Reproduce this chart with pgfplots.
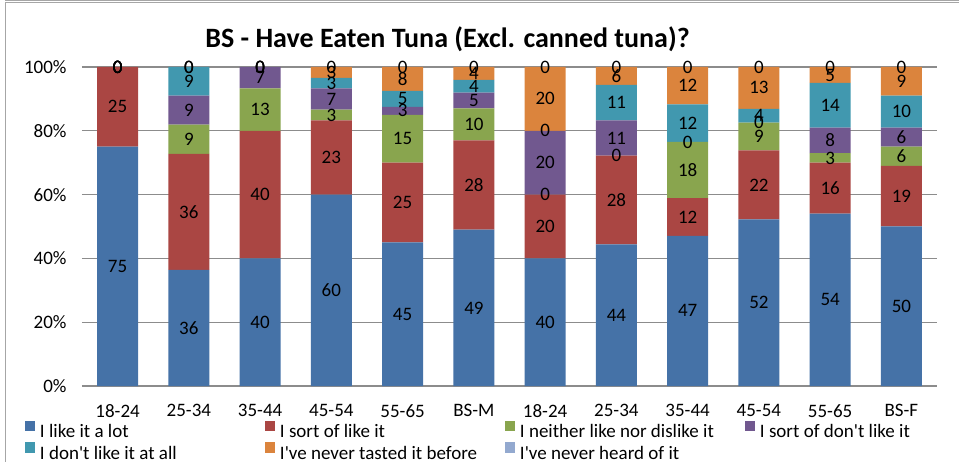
\documentclass[border=0pt]{standalone}
\usepackage{pgfplots}
\pgfplotsset{compat=1.18}
\usepackage{pgfplotstable}
\usepackage{fontspec}
\setmainfont{Carlito}
\definecolor{c1}{HTML}{4572A7}
\definecolor{c2}{HTML}{AA4643}
\definecolor{c3}{HTML}{89A54E}
\definecolor{c4}{HTML}{71588F}
\definecolor{c5}{HTML}{4198AF}
\definecolor{c6}{HTML}{DB843D}
\definecolor{c7}{HTML}{93A9CF}
\definecolor{gridgray}{HTML}{8C8C8C}
\definecolor{framegray}{HTML}{A6A6A6}

% a: like a lot, b: sort of like, c: neither, d: sort of don't like,
% e: don't like at all, f: never tasted, g: never heard
\pgfplotstableread{
x  a    b    c    d    e    f    g
0  75   25   0    0    0    0    0
1  36.4 36.4 9.1  9.1  9.0  0    0
2  40   40   13.3 6.7  0    0    0
3  60   23.3 3.3  6.7  3.3  3.4  0
4  45   25   15   2.5  5    7.5  0
5  49   28   10   5    4    4    0
6  40   20   0    20   0    20   0
7  44.4 27.8 0    11.1 11.1 5.6  0
8  47.1 11.8 17.6 0    11.8 11.7 0
9  52.2 21.7 8.7  0    4.3  13.1 0
10 54   16   3    8    14   5    0
11 50   19   6    6    10   9    0
}\data

\newcommand\lbl{\fontsize{19bp}{22bp}\selectfont}
\newcommand\q{\textquotesingle}

\begin{document}
\begin{tikzpicture}
\pgfplotsset{
  base/.style={
    width=855bp, height=319bp, scale only axis,
    at={(0,0)}, anchor=south west,
    xmin=-0.5, xmax=11.5, ymin=0, ymax=100,
  }
}
\begin{axis}[base,
  ybar stacked, bar width=41bp,
  ytick={0,20,...,100}, yticklabels={0\%,20\%,40\%,60\%,80\%,100\%},
  xtick={0,...,11},
  xticklabels={18-24,25-34,35-44,45-54,55-65,BS-M,18-24,25-34,35-44,45-54,55-65,BS-F},
  ymajorgrids, grid style={gridgray, line width=1.4bp},
  axis line style={draw=none},
  major tick length=0pt,
  tick label style={font=\lbl},
  yticklabel style={xshift=-12bp},
  xticklabel style={yshift=-15bp},
  title={BS - Have Eaten Tuna (Excl. canned tuna)?},
  title style={font=\bfseries\fontsize{28bp}{30bp}\selectfont,
    at={(axis description cs:0.4275,1.0439)}, anchor=base},
  legend columns=4,
  legend cell align=left,
  legend image code/.code={\fill[#1] (0bp,-0.7bp) rectangle (10bp,9.8bp);},
  legend style={at={(axis description cs:-0.0667,-0.1085)}, anchor=north west,
    draw=none, fill=none, font=\lbl, inner sep=0pt, outer sep=0pt,
    nodes={inner sep=0pt},
    column sep=0pt, row sep=3.5bp,
    /tikz/every odd column/.append style={column sep=5bp}},
]
\addplot[fill=c1, draw=none] table[x=x, y=a]{\data};
\addlegendentry{\makebox[225bp][l]{\strut I like it a lot}}
\addplot[fill=c2, draw=none] table[x=x, y=b]{\data};
\addlegendentry{\makebox[225bp][l]{\strut I sort of like it}}
\addplot[fill=c3, draw=none] table[x=x, y=c]{\data};
\addlegendentry{\makebox[225bp][l]{\strut I neither like nor dislike it}}
\addplot[fill=c4, draw=none] table[x=x, y=d]{\data};
\addlegendentry{\makebox[225bp][l]{\strut I sort of don\q t like it}}
\addplot[fill=c5, draw=none] table[x=x, y=e]{\data};
\addlegendentry{\makebox[225bp][l]{\strut I don\q t like it at all}}
\addplot[fill=c6, draw=none] table[x=x, y=f]{\data};
\addlegendentry{\makebox[225bp][l]{\strut I\q ve never tasted it before}}
\addplot[fill=c7, draw=none] table[x=x, y=g]{\data};
\addlegendentry{\makebox[225bp][l]{\strut I\q ve never heard of it}}
\end{axis}

\begin{axis}[base, hide axis, clip=false,
  point meta min=0, point meta max=100,
  nodes near coords={\pgfmathprintnumber[fixed,precision=0,assume math mode=true]{\pgfplotspointmeta}},
  every node near coord/.append style={anchor=center, font=\lbl, inner sep=0pt, text=black},
]
\addplot[only marks, mark=none, point meta=explicit] table[x=x, y expr=\thisrow{a}/2, meta=a]{\data};
\addplot[only marks, mark=none, point meta=explicit] table[x=x, y expr=\thisrow{a}+\thisrow{b}/2, meta=b]{\data};
\addplot[only marks, mark=none, point meta=explicit] table[x=x, y expr=\thisrow{a}+\thisrow{b}+\thisrow{c}/2, meta=c]{\data};
\addplot[only marks, mark=none, point meta=explicit] table[x=x, y expr=\thisrow{a}+\thisrow{b}+\thisrow{c}+\thisrow{d}/2, meta=d]{\data};
\addplot[only marks, mark=none, point meta=explicit] table[x=x, y expr=\thisrow{a}+\thisrow{b}+\thisrow{c}+\thisrow{d}+\thisrow{e}/2, meta=e]{\data};
\addplot[only marks, mark=none, point meta=explicit] table[x=x, y expr=\thisrow{a}+\thisrow{b}+\thisrow{c}+\thisrow{d}+\thisrow{e}+\thisrow{f}/2, meta=f]{\data};
\addplot[only marks, mark=none, point meta=explicit] table[x=x, y expr=\thisrow{a}+\thisrow{b}+\thisrow{c}+\thisrow{d}+\thisrow{e}+\thisrow{f}+\thisrow{g}/2, meta=g]{\data};
\end{axis}

\draw[framegray, line width=1.2bp] (-76.5bp,-76bp) -- (-76.5bp,383.5bp) -- (877bp,383.5bp);
\draw[framegray, line width=0.8bp] (-77bp,385.5bp) -- (877bp,385.5bp);
\pgfresetboundingbox
\path[use as bounding box] (-82bp,-76bp) rectangle (877bp,386bp);
\end{tikzpicture}
\end{document}
